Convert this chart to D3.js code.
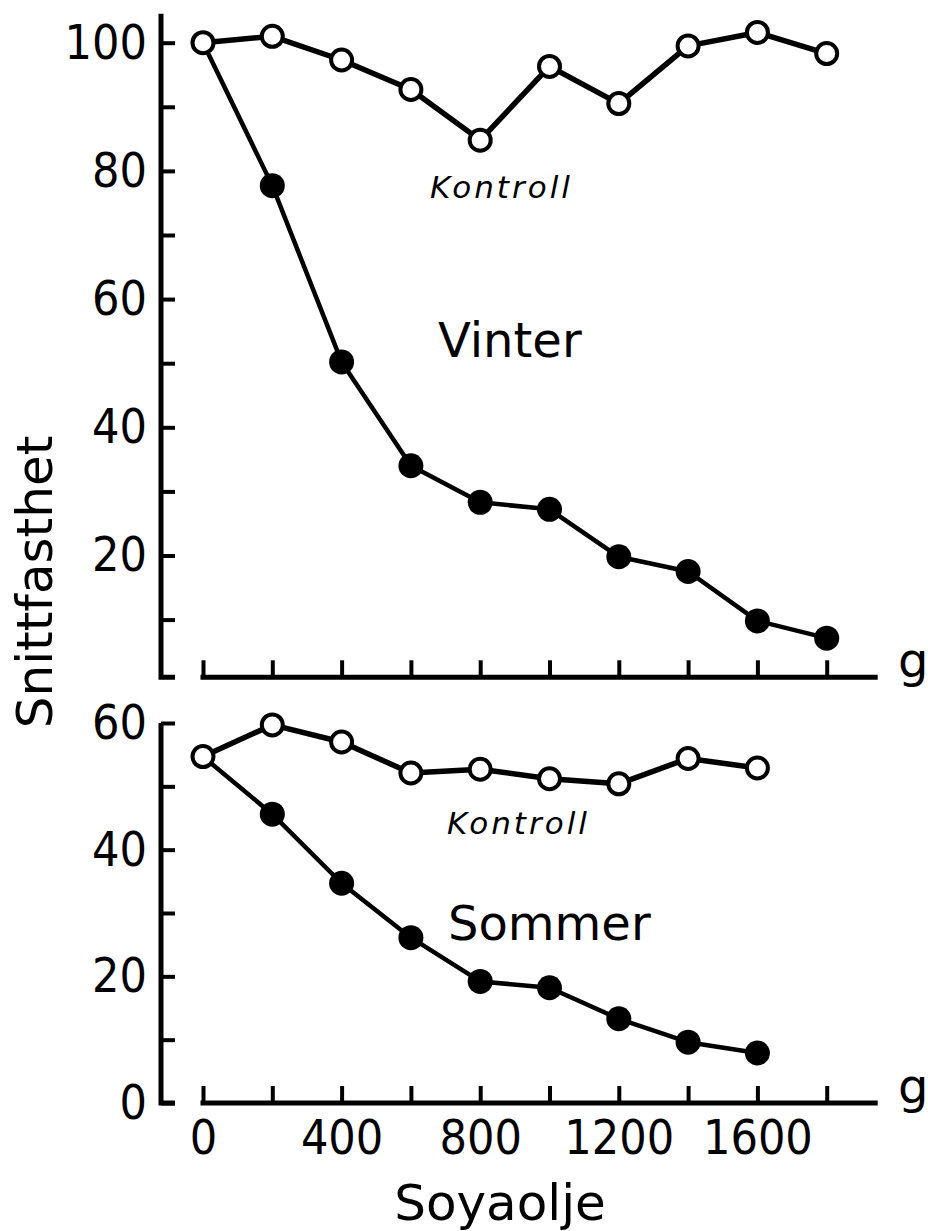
<!DOCTYPE html>
<html>
<head>
<meta charset="utf-8">
<script src="https://cdn.jsdelivr.net/npm/d3@7"></script>
<style>
body { margin: 0; background: #fff; }
svg text { font-family: "DejaVu Sans", sans-serif; fill: #000; }
.tick text { font-family: "DejaVu Sans Condensed", "DejaVu Sans", sans-serif; font-stretch: condensed; }
</style>
</head>
<body>
<svg width="928" height="1231"></svg>
<script>
// soybean oil dose (g)
var doses = [0, 200, 400, 600, 800, 1000, 1200, 1400, 1600, 1800];
// winter
var vinterKontroll = [100, 101, 97.3, 92.7, 84.8, 96.3, 90.5, 99.5, 101.6, 98.3];
var vinter = [100, 77.7, 50.2, 34.0, 28.3, 27.2, 19.8, 17.5, 9.8, 7.1];
// summer
var sommerDoses = [0, 200, 400, 600, 800, 1000, 1200, 1400, 1600];
var sommerKontroll = [54.7, 59.7, 57.0, 52.1, 52.7, 51.2, 50.4, 54.4, 52.9];
var sommer = [54.7, 45.6, 34.7, 26.1, 19.2, 18.2, 13.3, 9.6, 7.9];

var xTicks = [0, 200, 400, 600, 800, 1000, 1200, 1400, 1600, 1800];
var xTickLabels = [0, 400, 800, 1200, 1600];
var vinterYTicks = [10, 20, 30, 40, 50, 60, 70, 80, 90, 100];
var sommerYTicks = [0, 10, 20, 30, 40, 50, 60];

var svg = d3.select("svg");

var x = d3.scaleLinear().domain([0, 1800]).range([203, 826.7]);

function zip(xs, ys) {
  return xs.map(function(d, i) { return {dose: d, value: ys[i]}; });
}

function panel(opts) {
  var y = d3.scaleLinear().domain([0, opts.yMax]).range(opts.yRange);
  var g = svg.append("g");

  // y axis, ticks pointing inwards
  var yAxis = g.append("g")
      .attr("transform", "translate(161,0)")
      .call(d3.axisLeft(y)
        .tickValues(opts.yTicks)
        .tickSizeInner(-14)
        .tickSizeOuter(0)
        .tickPadding(14)
        .tickFormat(function(d) { return d % 20 === 0 && d >= opts.firstLabel ? d : ""; }));
  yAxis.select(".domain").remove();
  yAxis.selectAll(".tick line").attr("stroke", "#000").attr("stroke-width", 4);
  yAxis.selectAll(".tick text").attr("font-size", 48).attr("fill", "#000");

  g.append("path")
      .attr("d", "M175," + y(opts.axisBase) + "H161V" + y(opts.axisTop))
      .attr("fill", "none")
      .attr("stroke", "#000")
      .attr("stroke-width", 5);

  // x axis, ticks pointing up
  var xAxis = g.append("g")
      .attr("transform", "translate(0," + y(opts.axisBase) + ")")
      .call(d3.axisBottom(x)
        .tickValues(xTicks)
        .tickSizeInner(-17)
        .tickSizeOuter(0)
        .tickPadding(17)
        .tickFormat(function(d) { return opts.xLabels && xTickLabels.indexOf(d) >= 0 ? d : ""; }));
  xAxis.select(".domain").remove();
  xAxis.selectAll(".tick line").attr("stroke", "#000").attr("stroke-width", 4);
  xAxis.selectAll(".tick text").attr("font-size", 48).attr("fill", "#000");

  g.append("line")
      .attr("x1", x(0)).attr("x2", x(1940))
      .attr("y1", y(opts.axisBase)).attr("y2", y(opts.axisBase))
      .attr("stroke", "#000")
      .attr("stroke-width", 5)
      .attr("stroke-linecap", "square");

  g.append("text")
      .attr("x", 898)
      .attr("y", y(opts.axisBase))
      .attr("font-size", 48)
      .text("g");

  var line = d3.line()
      .x(function(d) { return x(d.dose); })
      .y(function(d) { return y(d.value); });

  var treated = zip(opts.doses, opts.treated);
  var control = zip(opts.doses, opts.control);

  g.append("path")
      .datum(treated)
      .attr("d", line)
      .attr("fill", "none")
      .attr("stroke", "#000")
      .attr("stroke-width", 4.5)
      .attr("stroke-linejoin", "round");

  g.append("path")
      .datum(control)
      .attr("d", line)
      .attr("fill", "none")
      .attr("stroke", "#000")
      .attr("stroke-width", 5.5)
      .attr("stroke-linejoin", "round");

  g.selectAll(".filled")
      .data(treated.slice(1))
    .enter().append("circle")
      .attr("class", "filled")
      .attr("cx", function(d) { return x(d.dose); })
      .attr("cy", function(d) { return y(d.value); })
      .attr("r", 12.5)
      .attr("fill", "#000");

  g.selectAll(".open")
      .data(control)
    .enter().append("circle")
      .attr("class", "open")
      .attr("cx", function(d) { return x(d.dose); })
      .attr("cy", function(d) { return y(d.value); })
      .attr("r", 10.5)
      .attr("fill", "#fff")
      .attr("stroke", "#000")
      .attr("stroke-width", 4);

  g.append("text")
      .attr("x", opts.kontrollPos[0])
      .attr("y", opts.kontrollPos[1])
      .attr("font-size", 31)
      .attr("font-style", "italic")
      .attr("letter-spacing", 3)
      .text("Kontroll");

  g.append("text")
      .attr("x", opts.titlePos[0])
      .attr("y", opts.titlePos[1])
      .attr("font-size", 48)
      .text(opts.title);
}

panel({
  yMax: 100, yRange: [683.7, 42.7], yTicks: vinterYTicks, firstLabel: 20,
  axisBase: 1, axisTop: 104.5, xLabels: false,
  doses: doses, treated: vinter, control: vinterKontroll,
  title: "Vinter", titlePos: [438, 357], kontrollPos: [430, 198]
});

panel({
  yMax: 60, yRange: [1103, 723], yTicks: sommerYTicks, firstLabel: 0,
  axisBase: 0, axisTop: 60, xLabels: true,
  doses: sommerDoses, treated: sommer, control: sommerKontroll,
  title: "Sommer", titlePos: [448, 940], kontrollPos: [447, 834]
});

svg.append("text")
    .attr("x", 500)
    .attr("y", 1220)
    .attr("text-anchor", "middle")
    .attr("font-size", 50)
    .text("Soyaolje");

svg.append("text")
    .attr("transform", "translate(52,582) rotate(-90)")
    .attr("text-anchor", "middle")
    .attr("font-size", 50)
    .text("Snittfasthet");
</script>
</body>
</html>
